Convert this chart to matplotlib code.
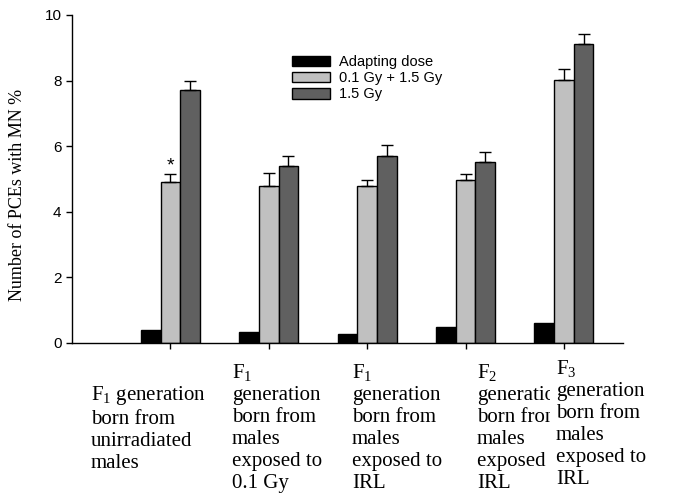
import numpy as np
import matplotlib
matplotlib.use("Agg")
import matplotlib.pyplot as plt
from matplotlib.patches import Patch

# values
groups = [1, 2, 3, 4, 5]
adapting = [0.39, 0.35, 0.26, 0.50, 0.61]
combined = [4.90, 4.80, 4.80, 4.96, 8.01]
combined_err = [0.24, 0.38, 0.18, 0.20, 0.33]
high = [7.71, 5.41, 5.71, 5.52, 9.12]
high_err = [0.27, 0.29, 0.34, 0.29, 0.29]
series_names = ["Adapting dose", "0.1 Gy + 1.5 Gy", "1.5 Gy"]
cat_labels = [
    "$\\mathregular{F_1}$ generation\nborn from\nunirradiated\nmales",
    "$\\mathregular{F_1}$\ngeneration\nborn from\nmales\nexposed to\n0.1 Gy",
    "$\\mathregular{F_1}$\ngeneration\nborn from\nmales\nexposed to\nIRL",
    "$\\mathregular{F_2}$\ngeneration\nborn from\nmales\nexposed to\nIRL",
    "$\\mathregular{F_3}$\ngeneration\nborn from\nmales\nexposed to\nIRL",
]

W, H = 685, 495
fig = plt.figure(figsize=(W / 100, H / 100), dpi=100)
ax = fig.add_axes([72 / W, 1 - 343 / H, (623 - 72) / W, (343 - 15) / H])

x = np.array(groups, dtype=float)
bw = 0.2
colors = ["#000000", "#c0c0c0", "#606060"]
ax.bar(x - bw, adapting, bw, color=colors[0], edgecolor="black", linewidth=1, zorder=2)
ax.bar(x, combined, bw, color=colors[1], edgecolor="black", linewidth=1, zorder=2)
ax.bar(x + bw, high, bw, color=colors[2], edgecolor="black", linewidth=1, zorder=2)
ax.errorbar(x, combined, yerr=[np.zeros(5), combined_err], fmt="none",
            ecolor="black", elinewidth=1, capsize=4.5, capthick=1, zorder=3)
ax.errorbar(x + bw, high, yerr=[np.zeros(5), high_err], fmt="none",
            ecolor="black", elinewidth=1, capsize=4.5, capthick=1, zorder=3)

# significance mark
ax.text(x[0], combined[0] + combined_err[0] + 0.0, "*", ha="center", va="bottom",
        fontsize=14, family="Liberation Sans")

ax.set_xlim(0, 5.6)
ax.set_ylim(0, 10)
ax.set_xticks(x)
ax.set_xticklabels([])
ax.set_yticks([0, 2, 4, 6, 8, 10])
for s in ["top", "right"]:
    ax.spines[s].set_visible(False)
for s in ["left", "bottom"]:
    ax.spines[s].set_linewidth(1)
ax.tick_params(axis="y", length=4.5, width=1, labelsize=11, pad=3)
ax.tick_params(axis="x", length=4, width=1)
for lab in ax.get_yticklabels():
    lab.set_family("Liberation Sans")

fig.text(18 / W, 1 - 195 / H, "Number of PCEs with MN %", rotation=90,
         ha="center", va="center", fontsize=13, family="Liberation Serif")

handles = [Patch(facecolor=c, edgecolor="black", linewidth=1) for c in colors]
fig.legend(handles, series_names, loc="upper left",
           bbox_to_anchor=(292 / W, 1 - 55 / H), frameon=False, borderpad=0,
           borderaxespad=0, handlelength=2.6, handleheight=0.75,
           handletextpad=0.6, labelspacing=0.15,
           prop={"family": "Liberation Sans", "size": 10.5})

# category labels under the axis
label_x = [91, 232, 352, 477, 556]
label_top = [384, 362, 362, 362, 358]
for i, s in enumerate(cat_labels):
    kw = {}
    if i == 4:
        kw["bbox"] = dict(facecolor="white", edgecolor="none", pad=4)
    fig.text(label_x[i] / W, 1 - label_top[i] / H, s, ha="left", va="top",
             fontsize=15, family="Liberation Serif", linespacing=1.22,
             zorder=3 + i, **kw)

fig.savefig("out.png", dpi=100)
